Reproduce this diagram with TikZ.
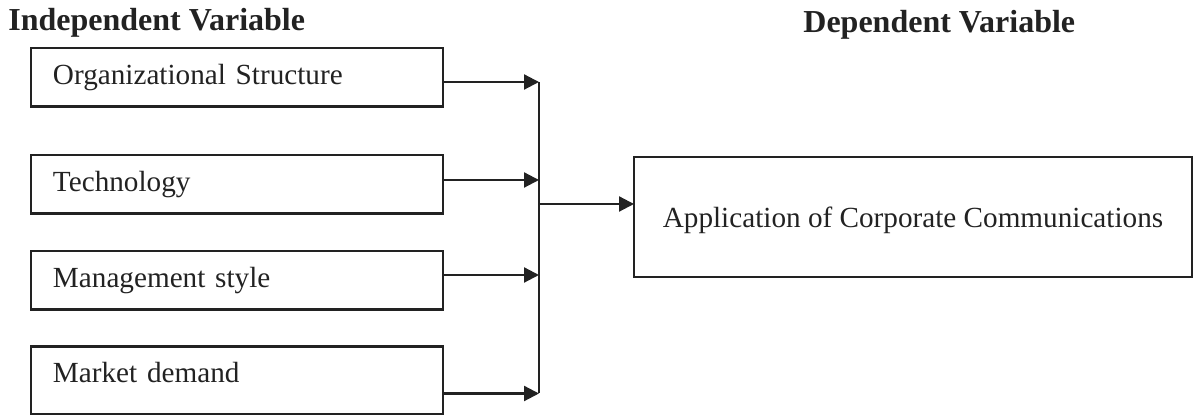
\documentclass[tikz,border=0pt]{standalone}
\usepackage{fontspec}
\setmainfont{Liberation Serif}
\usetikzlibrary{arrows.meta}
\definecolor{ink}{RGB}{34,34,34}
\begin{document}
\begin{tikzpicture}[x=0.5pt,y=-0.5pt,
  inkline/.style={draw=ink, line width=1.1pt},
  varbox/.style={draw=ink, line width=1.2pt, inner xsep=11pt, inner ysep=0pt,
    outer sep=0pt, text width=184pt, align=left, text height=18.5pt,
    text depth=10.75pt, font=\fontsize{14.6}{17}\selectfont, text=ink,
    anchor=north west},
  depbox/.style={draw=ink, line width=1.2pt, inner sep=0pt, outer sep=0pt,
    minimum width=279pt, minimum height=59.75pt, text height=11pt,
    text depth=0pt, align=center, font=\fontsize{14.6}{17}\selectfont,
    text=ink},
  heading/.style={font=\bfseries\fontsize{16}{19}\selectfont, text=ink,
    anchor=base west, inner sep=0pt},
  arr/.style={inkline, -{Triangle[length=7.5pt,width=7.5pt]}}]

\useasboundingbox (0,0) rectangle (1194,415);

\node[heading] (hind) at (8,31) {Independent Variable};
\node[heading] (hdep) at (803,33) {Dependent Variable};

\node[varbox] (b1) at (31,48) {Organizational Structure};
\node[varbox] (b2) at (31,155) {Technology};
\node[varbox] (b3) at (31,251) {Management style};
\node[varbox, text height=18.25pt, text depth=15.5pt] (b4) at (31,346.5) {Market demand};

\node[depbox] (dep) at (913,217) {Application of Corporate Communications};

\coordinate (j1) at (539,82);
\coordinate (j2) at (539,180);
\coordinate (j3) at (539,275);
\coordinate (j4) at (539,393.5);
\coordinate (jo) at (539,204);

\draw[arr] (b1.east |- j1) -- (j1);
\draw[arr] (b2.east |- j2) -- (j2);
\draw[arr] (b3.east |- j3) -- (j3);
\draw[arr] (b4.east |- j4) -- (j4);
\draw[inkline] (j1) -- (j4);
\draw[arr] (jo) -- (dep.west |- jo);
\end{tikzpicture}
\end{document}
